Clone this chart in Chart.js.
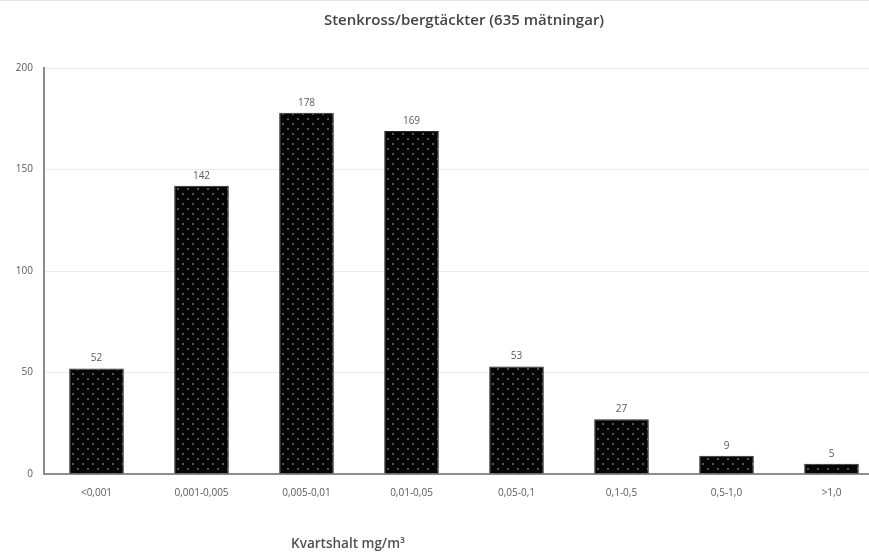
<!DOCTYPE html>
<html>
<head>
<meta charset="utf-8">
<script src="https://cdn.jsdelivr.net/npm/chart.js@4.4.1/dist/chart.umd.min.js"></script>
<style>
    html, body { margin: 0; padding: 0; background: #fff; overflow: hidden; }
    body { width: 869px; height: 556px; border-top: 1px solid #e4e4e4; box-sizing: border-box; }
    #wrap { width: 890px; height: 555px; }
</style>
</head>
<body>
<div id="wrap"><canvas id="chart"></canvas></div>
<script>
const categories = ['<0,001', '0,001-0,005', '0,005-0,01', '0,01-0,05', '0,05-0,1', '0,1-0,5', '0,5-1,0', '>1,0'];
const counts = [52, 142, 178, 169, 53, 27, 9, 5];
const yTicks = [0, 50, 100, 150, 200];
const titleText = 'Stenkross/bergtäckter (635 mätningar)';
const xTitleText = 'Kvartshalt mg/m³';

const textGrey = '#595959';
const fontFamily = '"Open Sans", "Liberation Sans", sans-serif';

// black fill with a staggered grey dot pattern
function dotPattern() {
    const c = document.createElement('canvas');
    c.width = 10;
    c.height = 10;
    const g = c.getContext('2d');
    g.fillStyle = '#050505';
    g.fillRect(0, 0, 10, 10);
    g.fillStyle = '#555';
    g.fillRect(2, 2, 2, 2);
    g.fillRect(7, 7, 2, 2);
    return g.createPattern(c, 'repeat');
}

// value labels above each bar
const barLabels = {
    id: 'barLabels',
    afterDatasetsDraw(chart) {
        const ctx = chart.ctx;
        const meta = chart.getDatasetMeta(0);
        ctx.save();
        ctx.font = '10px ' + fontFamily;
        ctx.fillStyle = textGrey;
        ctx.textAlign = 'center';
        ctx.textBaseline = 'bottom';
        meta.data.forEach((bar, i) => {
            ctx.fillText(String(counts[i]), bar.x, bar.y - 5);
        });
        ctx.restore();
    }
};

// axis title under the category labels
const xAxisTitle = {
    id: 'xAxisTitle',
    afterDraw(chart) {
        const ctx = chart.ctx;
        ctx.save();
        ctx.font = '600 13.5px ' + fontFamily;
        ctx.fillStyle = '#505050';
        ctx.textAlign = 'center';
        ctx.textBaseline = 'middle';
        ctx.fillText(xTitleText, chart.chartArea.left + 304, 543);
        ctx.restore();
    }
};

new Chart(document.getElementById('chart'), {
    type: 'bar',
    data: {
        labels: categories,
        datasets: [{
            data: counts,
            backgroundColor: dotPattern(),
            borderColor: '#2a2a2a',
            borderWidth: 1,
            barPercentage: 0.52,
            categoryPercentage: 1
        }]
    },
    options: {
        responsive: true,
        maintainAspectRatio: false,
        animation: false,
        layout: { padding: { left: 0, right: 6, top: 0, bottom: 52 } },
        plugins: {
            legend: { display: false },
            tooltip: { enabled: false },
            title: {
                display: true,
                text: titleText,
                fullSize: false,
                color: '#444',
                font: { family: fontFamily, size: 15, weight: '600' },
                padding: { top: 11, bottom: 38 }
            }
        },
        scales: {
            x: {
                grid: { display: false },
                border: { color: '#8c8c8c', width: 2 },
                ticks: {
                    color: textGrey,
                    font: { family: fontFamily, size: 10 },
                    padding: 5,
                    maxRotation: 0
                },
                afterFit(scale) { scale.height = 30; }
            },
            y: {
                min: 0,
                max: 200,
                afterBuildTicks(scale) { scale.ticks = yTicks.map(v => ({ value: v })); },
                grid: { color: '#ececec', drawTicks: false },
                border: { color: '#8c8c8c', width: 2 },
                ticks: {
                    color: textGrey,
                    font: { family: fontFamily, size: 10 },
                    padding: 11
                },
                afterFit(scale) { scale.width = 44; }
            }
        }
    },
    plugins: [barLabels, xAxisTitle]
});
</script>
</body>
</html>
